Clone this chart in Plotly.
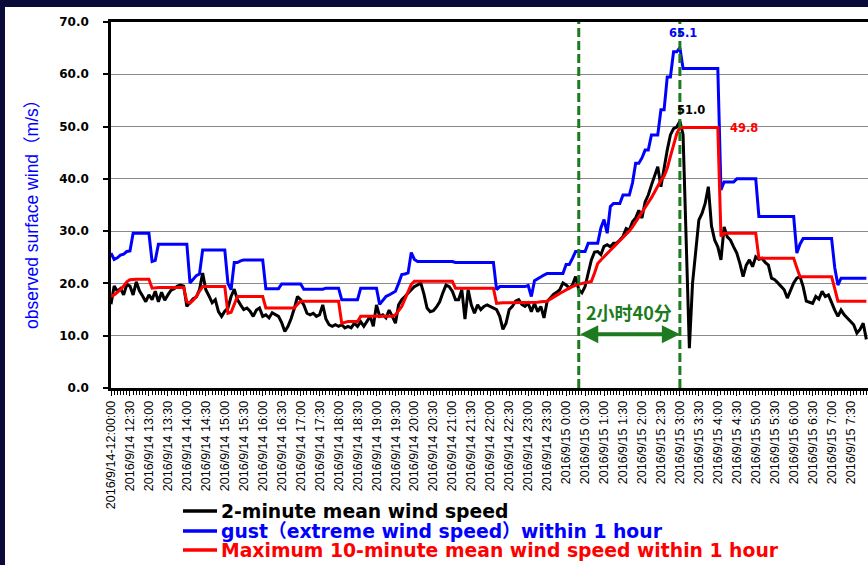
import pandas as pd
import plotly.graph_objects as go

# 5-minute samples from 2016-09-14 12:00 to 2016-09-15 07:55
times = pd.date_range("2016-09-14 12:00", periods=240, freq="5min")

# 2-minute mean wind speed (m/s)
mean_2min = [
    16.0, 19.5, 18.5, 19.0, 17.8, 19.8, 19.5, 17.8, 20.3, 18.6,
    17.6, 16.5, 17.8, 16.9, 18.5, 16.5, 18.3, 16.8, 17.8, 18.7,
    19.0, 19.5, 19.7, 19.5, 15.6, 16.4, 17.1, 17.4, 18.8, 22.0,
    18.8, 17.6, 16.3, 16.9, 14.6, 13.7, 14.7, 15.3, 17.5, 18.9,
    16.9, 15.9, 15.0, 15.3, 14.7, 13.7, 14.9, 15.3, 13.7, 14.0,
    13.4, 14.4, 14.0, 13.7, 12.5, 10.8, 11.8, 13.3, 15.2, 17.5,
    16.9, 15.9, 14.3, 14.0, 14.3, 13.7, 14.0, 15.9, 13.2, 12.1,
    11.8, 12.1, 11.8, 12.1, 11.5, 11.8, 11.5, 12.4, 11.8, 12.7,
    11.8, 12.8, 13.7, 11.8, 15.9, 13.7, 14.0, 13.4, 14.9, 13.7,
    12.4, 15.9, 16.9, 17.5, 18.2, 18.8, 19.4, 19.7, 20.1, 18.0,
    15.3, 14.6, 14.8, 15.5, 16.5, 18.2, 19.7, 19.4, 18.5, 16.9,
    16.9, 18.8, 13.2, 18.8, 15.9, 14.3, 15.9, 15.0, 15.6, 15.9,
    15.6, 15.4, 15.0, 13.7, 11.2, 12.4, 15.0, 15.6, 16.6, 16.9,
    16.0, 15.6, 16.2, 14.6, 16.2, 14.6, 15.6, 13.4, 16.6, 17.2,
    17.9, 18.3, 18.8, 20.1, 19.7, 19.1, 19.7, 21.3, 18.8, 18.2,
    19.4, 22.0, 24.5, 26.0, 26.1, 25.5, 27.1, 27.4, 27.0, 27.7,
    27.7, 28.3, 29.0, 30.5, 30.2, 31.8, 32.5, 34.0, 32.5, 35.6,
    36.9, 38.8, 40.4, 42.3, 38.5, 42.3, 45.5, 48.4, 49.6, 49.9,
    51.0, 48.5, 30.0, 7.6, 20.0, 25.8, 32.1, 33.4, 35.3, 38.5,
    31.0, 28.3, 27.0, 24.5, 30.8, 28.9, 28.3, 27.0, 25.8, 23.8,
    21.3, 23.5, 24.5, 23.2, 25.1, 24.6, 24.8, 24.0, 23.5, 21.0,
    20.7, 20.1, 19.4, 18.8, 17.2, 18.8, 20.1, 21.0, 21.3, 19.4,
    16.6, 16.4, 16.2, 17.5, 17.0, 18.5, 17.5, 17.8, 16.2, 14.9,
    13.7, 14.9, 14.0, 13.4, 12.8, 12.1, 10.5, 11.2, 12.4, 9.3,
]

# gust (extreme wind speed) within 1 hour (m/s)
gust_1h = [
    25.8, 24.6, 24.9, 25.4, 25.6, 26.1, 26.2, 29.6, 29.6, 29.6,
    29.6, 29.6, 29.6, 24.2, 24.4, 27.5, 27.5, 27.5, 27.5, 27.5,
    27.5, 27.5, 27.5, 27.5, 27.5, 20.1, 20.8, 21.5, 21.8, 26.4,
    26.4, 26.4, 26.4, 26.4, 26.4, 26.4, 26.4, 20.0, 18.8, 24.0,
    24.0, 24.3, 24.5, 24.5, 24.5, 24.5, 24.5, 24.5, 24.5, 19.0,
    19.0, 19.0, 19.0, 19.0, 19.9, 19.9, 19.9, 19.9, 19.9, 19.9,
    19.9, 18.9, 18.9, 18.9, 18.9, 18.9, 18.9, 18.9, 19.1, 19.1,
    19.1, 19.1, 19.1, 16.9, 16.9, 16.9, 16.9, 16.9, 16.9, 19.1,
    19.1, 19.1, 19.1, 19.1, 19.1, 16.0, 16.8, 17.5, 17.8, 18.2,
    18.5, 20.0, 21.7, 21.8, 22.0, 25.9, 24.6, 24.2, 24.2, 24.2,
    24.2, 24.2, 24.2, 24.2, 24.2, 24.2, 24.2, 24.2, 24.2, 24.0,
    24.0, 24.0, 24.0, 24.0, 24.0, 24.0, 24.0, 24.0, 24.0, 24.0,
    24.0, 24.0, 18.8, 19.4, 19.4, 19.4, 19.4, 19.4, 19.4, 19.4,
    19.4, 19.4, 19.6, 17.5, 20.5, 20.9, 21.3, 21.6, 21.9, 21.9,
    21.9, 21.9, 21.9, 21.9, 23.6, 23.6, 24.8, 26.1, 26.1, 26.1,
    26.1, 27.7, 27.7, 27.7, 27.7, 30.6, 32.2, 29.6, 34.7, 35.3,
    35.3, 35.3, 36.9, 36.9, 36.9, 39.2, 43.0, 43.0, 44.0, 45.5,
    45.5, 48.4, 48.4, 48.4, 53.2, 53.2, 59.5, 59.5, 64.3, 64.3,
    65.1, 61.1, 61.1, 61.1, 61.1, 61.1, 61.1, 61.1, 61.1, 61.1,
    61.1, 61.1, 61.1, 37.9, 39.4, 39.4, 39.4, 39.4, 40.0, 40.0,
    40.0, 40.0, 40.0, 40.0, 40.0, 32.8, 32.8, 32.8, 32.8, 32.8,
    32.8, 32.8, 32.8, 32.8, 32.8, 32.8, 32.8, 25.8, 27.5, 28.6,
    28.6, 28.6, 28.6, 28.6, 28.6, 28.6, 28.6, 28.6, 28.6, 23.0,
    19.7, 21.0, 21.0, 21.0, 21.0, 21.0, 21.0, 21.0, 21.0, 21.0,
]

# maximum 10-minute mean wind speed within 1 hour (m/s)
max_10min_1h = [
    17.5, 17.8, 18.3, 18.8, 19.5, 20.3, 20.7, 20.8, 20.8, 20.8,
    20.8, 20.8, 20.8, 19.1, 19.2, 19.2, 19.2, 19.2, 19.2, 19.2,
    19.2, 19.2, 19.2, 19.2, 16.5, 16.2, 16.8, 17.5, 18.5, 19.4,
    19.4, 19.4, 19.4, 19.4, 19.4, 19.4, 19.4, 14.3, 14.5, 16.0,
    17.5, 17.5, 17.5, 17.5, 17.5, 17.5, 17.5, 17.5, 17.5, 15.3,
    15.3, 15.3, 15.3, 15.3, 15.3, 15.3, 15.3, 15.3, 15.3, 16.0,
    16.6, 16.6, 16.6, 16.6, 16.6, 16.6, 16.6, 16.6, 16.6, 16.6,
    16.6, 16.6, 16.6, 12.4, 12.6, 12.7, 12.7, 12.7, 12.7, 13.7,
    13.7, 13.7, 13.7, 13.7, 13.7, 13.7, 13.7, 13.7, 13.7, 13.7,
    14.0, 14.8, 15.6, 17.0, 18.6, 19.8, 20.4, 20.4, 20.4, 20.4,
    20.4, 20.4, 20.4, 20.4, 20.4, 20.4, 20.4, 20.4, 20.4, 19.1,
    19.1, 19.1, 19.1, 19.1, 19.1, 19.1, 19.1, 19.1, 19.1, 19.1,
    19.1, 19.1, 16.2, 16.3, 16.3, 16.3, 16.3, 16.3, 16.3, 16.3,
    16.3, 16.3, 16.4, 16.4, 16.4, 16.4, 16.5, 16.5, 16.6, 17.0,
    17.4, 17.8, 18.1, 18.4, 18.8, 19.1, 19.4, 19.7, 19.9, 20.0,
    20.1, 20.2, 20.4, 22.0, 23.8, 24.5, 25.1, 25.7, 26.2, 26.8,
    27.4, 28.0, 28.6, 29.3, 30.0, 30.8, 31.7, 32.6, 33.5, 34.4,
    35.3, 36.4, 37.5, 38.6, 39.7, 40.5, 42.0, 44.3, 46.6, 48.6,
    49.8, 49.8, 49.8, 49.8, 49.8, 49.8, 49.8, 49.8, 49.8, 49.8,
    49.8, 49.8, 49.8, 29.0, 29.6, 29.6, 29.6, 29.6, 29.6, 29.6,
    29.6, 29.6, 29.6, 29.6, 29.6, 24.8, 24.8, 24.8, 24.8, 24.8,
    24.8, 24.8, 24.8, 24.8, 24.8, 24.8, 24.8, 23.0, 21.3, 21.3,
    21.3, 21.3, 21.3, 21.3, 21.3, 21.3, 21.3, 21.3, 21.3, 19.0,
    16.6, 16.6, 16.6, 16.6, 16.6, 16.6, 16.6, 16.6, 16.6, 16.6,
]

# half-hourly tick positions and their labels
tick_times = pd.date_range("2016-09-14 12:00", "2016-09-15 07:30", freq="30min")
tick_labels = [
    "2016/9/14-12:00:00", "2016/9/14 12:30", "2016/9/14 13:00", "2016/9/14 13:30",
    "2016/9/14 14:00", "2016/9/14 14:30", "2016/9/14 15:00", "2016/9/14 15:30",
    "2016/9/14 16:00", "2016/9/14 16:30", "2016/9/14 17:00", "2016/9/14 17:30",
    "2016/9/14 18:00", "2016/9/14 18:30", "2016/9/14 19:00", "2016/9/14 19:30",
    "2016/9/14 20:00", "2016/9/14 20:30", "2016/9/14 21:00", "2016/9/14 21:30",
    "2016/9/14 22:00", "2016/9/14 22:30", "2016/9/14 23:00", "2016/9/14 23:30",
    "2016/9/15 0:00", "2016/9/15 0:30", "2016/9/15 1:00", "2016/9/15 1:30",
    "2016/9/15 2:00", "2016/9/15 2:30", "2016/9/15 3:00", "2016/9/15 3:30",
    "2016/9/15 4:00", "2016/9/15 4:30", "2016/9/15 5:00", "2016/9/15 5:30",
    "2016/9/15 6:00", "2016/9/15 6:30", "2016/9/15 7:00", "2016/9/15 7:30",
]

series_names = [
    "2-minute mean wind speed",
    "gust（extreme wind speed）within 1 hour",
    "Maximum 10-minute mean wind speed within 1 hour",
]
series_colors = ["#000000", "#0000ff", "#ff0000"]

# onset of the rapid rise and the moment of peak wind
rise_start = pd.Timestamp("2016-09-15 00:20")
peak_time = pd.Timestamp("2016-09-15 03:00")
span_label = "2小时40分"

NAVY = "#0b0b3a"
GREEN = "#1e7a1e"
BOLD = "DejaVu Sans, Verdana, sans-serif"
ARIAL = "Liberation Sans, Arial, Noto Sans CJK SC, sans-serif"

fig = go.Figure()
for name, vals, col in zip(series_names, [mean_2min, gust_1h, max_10min_1h], series_colors):
    fig.add_trace(go.Scatter(x=times, y=vals, mode="lines", name=name,
                             line=dict(color=col, width=3), showlegend=False))

# peak value labels, placed from the data maxima
i_gust = gust_1h.index(max(gust_1h))
i_mean = mean_2min.index(max(mean_2min))
i_red_end = len(max_10min_1h) - 1 - max_10min_1h[::-1].index(max(max_10min_1h))
peak_labels = [
    (times[i_gust], gust_1h[i_gust], "#0000ff", 3, 15),
    (times[i_mean], mean_2min[i_mean], "#000000", 11, 11),
    (times[i_red_end], max_10min_1h[i_red_end], "#ff0000", 26, 0),
]
for tx, ty, col, dx, dy in peak_labels:
    fig.add_annotation(x=tx, y=ty, text=f"{ty:.1f}", showarrow=False,
                       xshift=dx, yshift=dy, xanchor="center", yanchor="middle",
                       font=dict(family=BOLD, size=11.5, color=col, weight="bold"))

# dashed markers for the rise window
for t in (rise_start, peak_time):
    fig.add_shape(type="line", xref="x", yref="paper", x0=t, x1=t, y0=0, y1=1,
                  line=dict(color=GREEN, width=3, dash="9px,4px"))

# double-headed arrow spanning the window
fig.add_annotation(x=peak_time, y=10.3, ax=rise_start, ay=10.3, axref="x", ayref="y",
                   text="", showarrow=True, arrowhead=2, arrowside="end+start",
                   arrowsize=0.9, arrowwidth=4, arrowcolor=GREEN, standoff=0, startstandoff=0)
fig.add_annotation(x=rise_start + (peak_time - rise_start) / 2, y=14.5, text=span_label,
                   showarrow=False, xanchor="center", yanchor="middle",
                   font=dict(family="Noto Sans CJK SC", size=18, color=GREEN, weight="bold"))

# white page area inside the dark frame
W, H = 868, 565
L, R, T, B = 111, 0, 22, 177
pw, ph = W - L - R, H - T - B


def px_x(X):
    return (X - L) / pw


def px_y(Y):
    return (H - B - Y) / ph


fig.add_shape(type="rect", xref="paper", yref="paper", layer="below",
              x0=px_x(5), x1=px_x(W + 5), y0=px_y(H + 5), y1=px_y(7),
              fillcolor="white", line=dict(width=0))

# y-axis title
fig.add_annotation(xref="paper", yref="paper", x=px_x(32), y=px_y(210),
                   text="observed surface wind（m/s）", textangle=-90, showarrow=False,
                   xanchor="center", yanchor="middle",
                   font=dict(family=ARIAL, size=17.5, color="#0000ff"))

# legend drawn below the axis
legend_rows = [511, 531, 550]
for name, col, yrow in zip(series_names, series_colors, legend_rows):
    fig.add_shape(type="line", xref="paper", yref="paper",
                  x0=px_x(183), x1=px_x(217), y0=px_y(yrow), y1=px_y(yrow),
                  line=dict(color=col, width=3.5))
    fig.add_annotation(xref="paper", yref="paper", x=px_x(219), y=px_y(yrow),
                       text=name, showarrow=False, xanchor="left", yanchor="middle",
                       font=dict(family=BOLD + ", Noto Sans CJK SC", size=18.8, color=col,
                                 weight="bold"))

fig.update_layout(
    width=W, height=H,
    margin=dict(l=L, r=R, t=T, b=B, autoexpand=False),
    paper_bgcolor=NAVY, plot_bgcolor="white",
    showlegend=False,
    xaxis=dict(
        type="date",
        range=[times[0], pd.Timestamp("2016-09-15 07:57:36")],
        tickmode="array", tickvals=tick_times, ticktext=tick_labels,
        tickangle=-90, tickfont=dict(family=ARIAL, size=12.5, color="black"),
        ticks="outside", ticklen=5, tickwidth=1, tickcolor="black",
        minor=dict(dtick=300000, tick0=times[0], ticks="outside", ticklen=4,
                   tickwidth=1, tickcolor="black", showgrid=False),
        showgrid=False, zeroline=False,
        showline=True, linecolor="black", linewidth=2.5, mirror=True,
        automargin=False,
    ),
    yaxis=dict(
        range=[0, 70], dtick=10, tickformat=".1f",
        tickfont=dict(family=BOLD, size=12, color="black", weight="bold"),
        ticks="outside", ticklen=5, tickwidth=1.5, tickcolor="black",
        ticklabelstandoff=12,
        showgrid=True, gridcolor="#8a8a8a", gridwidth=1, zeroline=False,
        showline=True, linecolor="black", linewidth=2.5, mirror=True,
        automargin=False,
    ),
)

fig.write_html("out.html")
